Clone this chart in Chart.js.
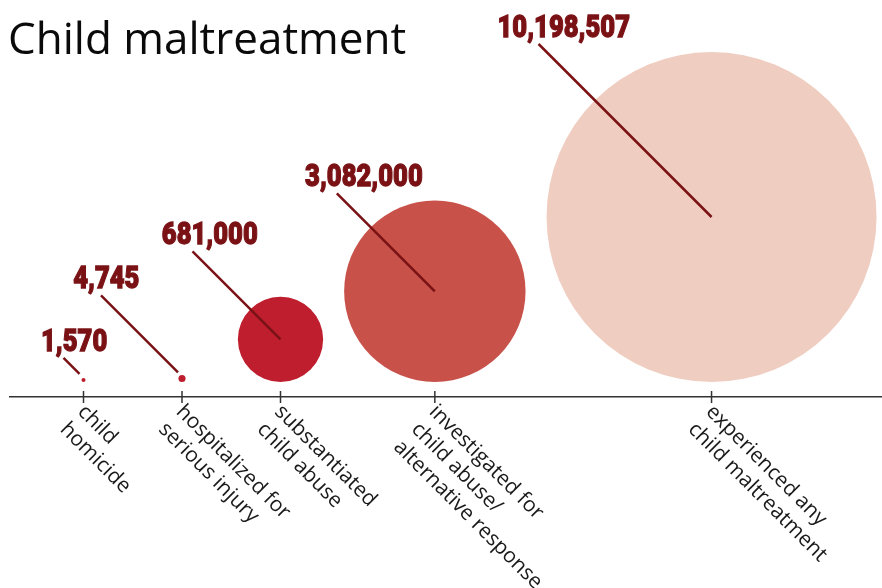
<!DOCTYPE html>
<html>
<head>
<meta charset="utf-8">
<script src="https://cdn.jsdelivr.net/npm/chart.js@4.4.1/dist/chart.umd.min.js"></script>
<style>
    html, body { margin: 0; padding: 0; background: #fff; }
</style>
</head>
<body>
<canvas id="bubbleChart" width="882" height="588"></canvas>
<script>
// categories shown under the axis (one entry per line of the label)
const categories = [
    ['child', 'homicide'],
    ['hospitalized for', 'serious injury'],
    ['substantiated', 'child abuse'],
    ['investigated for', 'child abuse/', 'alternative response'],
    ['experienced any', 'child maltreatment']
];

// number of children in each category
const counts = [1570, 4745, 681000, 3082000, 10198507];

// colours of the bubbles
const bubbleColors = ['#be1e2d', '#be1e2d', '#be1e2d', '#c8524a', '#f0cdc1'];

// horizontal run of each leader line (px) and where the label sits on it
const leaderRun = [16, 77, 88, 98, 173];
const labelAnchor = [0.34, 0.42, 0.32, 0.27, 0.31];

const labelRed = '#7a1215';
const axisGrey = '#333333';

// bubble area is proportional to the count
const maxRadius = 165;
const k = maxRadius / Math.sqrt(Math.max(...counts));
const radius = v => k * Math.sqrt(v);

// place the bubbles left to right, keeping a gap between them
const xPos = [];
counts.forEach((v, i) => {
    if (i === 0) {
        xPos.push(83.5);
    } else {
        const step = Math.max(98.5, radius(counts[i - 1]) + radius(v) + 21);
        xPos.push(xPos[i - 1] + step);
    }
});

// every bubble sits on the same base line
const points = counts.map((v, i) => ({ x: xPos[i], y: radius(v), r: radius(v) }));

// draws leader lines and value labels
const annotate = {
    id: 'annotate',
    afterDatasetsDraw(chart) {
        const ctx = chart.ctx;
        const meta = chart.getDatasetMeta(0);
        ctx.save();
        meta.data.forEach((pt, i) => {
            const r = radius(counts[i]);
            const tiny = r < 10;
            const x1 = pt.x - (tiny ? 4 : 0);
            const y1 = pt.y - (tiny ? 6 : 0);
            const x0 = x1 - leaderRun[i];
            const y0 = y1 - leaderRun[i];

            ctx.strokeStyle = labelRed;
            ctx.lineWidth = 2.5;
            ctx.beginPath();
            ctx.moveTo(x0, y0);
            ctx.lineTo(x1, y1);
            ctx.stroke();

            // value label, squeezed to look like a condensed face
            const txt = counts[i].toLocaleString('en-US');
            const squeeze = 0.8;
            ctx.font = '900 32px Roboto, "Liberation Sans", sans-serif';
            const w = ctx.measureText(txt).width * squeeze;
            ctx.save();
            ctx.translate(x0 - labelAnchor[i] * w, y0 - 7);
            ctx.scale(squeeze, 1);
            ctx.fillStyle = labelRed;
            ctx.strokeStyle = labelRed;
            ctx.lineWidth = 1.3;
            ctx.textAlign = 'left';
            ctx.textBaseline = 'alphabetic';
            ctx.fillText(txt, 0, 0);
            ctx.strokeText(txt, 0, 0);
            ctx.restore();
        });
        ctx.restore();
    },
    // title, ticks and rotated category labels
    afterDraw(chart) {
        const ctx = chart.ctx;
        const xScale = chart.scales.x;
        const base = xScale.top;
        ctx.save();

        ctx.fillStyle = '#0a0a0a';
        ctx.font = '44px "Open Sans", sans-serif';
        ctx.textBaseline = 'alphabetic';
        ctx.fillText('Child maltreatment', 8, 54);

        xScale.ticks.forEach((tick, i) => {
            const px = xScale.getPixelForValue(tick.value);
            ctx.strokeStyle = axisGrey;
            ctx.lineWidth = 1.5;
            ctx.beginPath();
            ctx.moveTo(px, base - 6);
            ctx.lineTo(px, base + 6);
            ctx.stroke();

            ctx.save();
            ctx.translate(px + 5, base + 4);
            ctx.rotate(Math.PI / 4);
            ctx.fillStyle = '#1a1a1a';
            ctx.font = '21px "Open Sans", sans-serif';
            ctx.textAlign = 'left';
            ctx.textBaseline = 'top';
            categories[i].forEach((line, j) => {
                ctx.fillText(line, 0, j * 25);
            });
            ctx.restore();
        });
        ctx.restore();
    }
};

const config = {
    type: 'bubble',
    data: {
        datasets: [{
            label: 'children',
            data: points,
            backgroundColor: bubbleColors,
            borderWidth: 0,
            hoverRadius: 0,
            clip: false
        }]
    },
    options: {
        responsive: false,
        animation: false,
        events: [],
        layout: {
            autoPadding: false,
            padding: { left: 10, right: 0, top: 0, bottom: 0 }
        },
        plugins: {
            legend: { display: false },
            tooltip: { enabled: false },
            title: { display: false }
        },
        scales: {
            x: {
                type: 'linear',
                min: 10,
                max: 882,
                grid: { display: false },
                border: { display: true, color: axisGrey, width: 1.5 },
                ticks: { display: false },
                afterBuildTicks: scale => {
                    scale.ticks = xPos.map(v => ({ value: v }));
                },
                afterFit: scale => {
                    scale.height = 191;
                }
            },
            y: {
                display: false,
                min: -15,
                max: 382
            }
        }
    },
    plugins: [annotate]
};

const myChart = new Chart(document.getElementById('bubbleChart'), config);
</script>
</body>
</html>
